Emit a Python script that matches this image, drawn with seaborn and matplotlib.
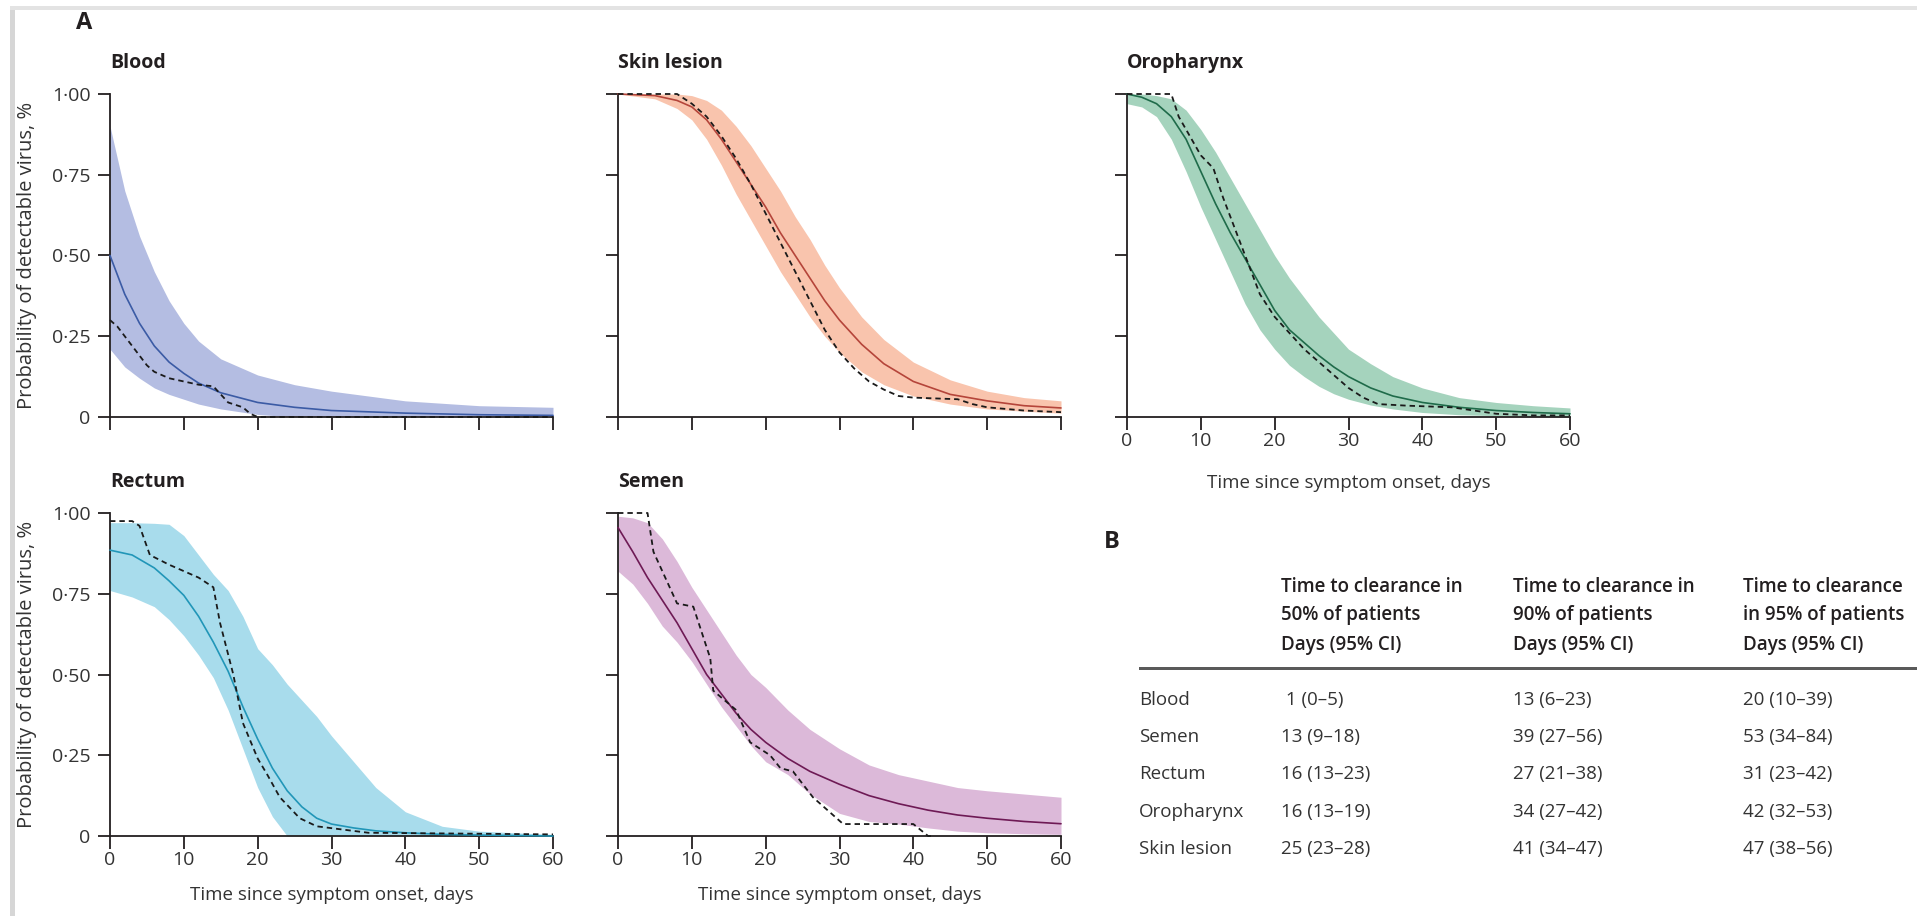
import seaborn as sns
import matplotlib.pyplot as plt
from matplotlib.patches import Rectangle

# ---- values (time in days, probability 0-1)
blood_t = [0, 2, 4, 6, 8, 10, 12, 15, 20, 25, 30, 40, 50, 60]
blood_fit = [0.50, 0.38, 0.29, 0.22, 0.17, 0.135, 0.105, 0.075, 0.045, 0.03, 0.02, 0.012, 0.007, 0.005]
blood_hi = [0.90, 0.70, 0.56, 0.45, 0.36, 0.29, 0.235, 0.18, 0.13, 0.10, 0.08, 0.05, 0.035, 0.03]
blood_lo = [0.21, 0.155, 0.12, 0.09, 0.07, 0.055, 0.04, 0.025, 0.008, 0.0, 0.0, 0.0, 0.0, 0.0]
blood_obs_t = [0, 1, 2, 3, 4, 5, 6, 8, 10, 12, 14, 15, 16, 18, 19, 20, 60]
blood_obs = [0.30, 0.28, 0.25, 0.22, 0.19, 0.16, 0.14, 0.12, 0.11, 0.10, 0.095, 0.07, 0.045, 0.03, 0.01, 0.0, 0.0]

skin_t = [0, 5, 8, 10, 12, 14, 16, 18, 20, 22, 24, 26, 28, 30, 33, 36, 40, 45, 50, 55, 60]
skin_fit = [1.0, 0.995, 0.98, 0.96, 0.92, 0.86, 0.79, 0.72, 0.65, 0.57, 0.50, 0.43, 0.36, 0.30, 0.225, 0.165, 0.11, 0.07, 0.05, 0.035, 0.028]
skin_hi = [1.0, 1.0, 1.0, 0.995, 0.98, 0.95, 0.90, 0.84, 0.77, 0.70, 0.62, 0.55, 0.47, 0.40, 0.31, 0.24, 0.17, 0.115, 0.08, 0.06, 0.05]
skin_lo = [1.0, 0.985, 0.955, 0.92, 0.86, 0.78, 0.69, 0.61, 0.53, 0.45, 0.38, 0.31, 0.25, 0.20, 0.14, 0.10, 0.065, 0.04, 0.025, 0.018, 0.012]
skin_obs_t = [0, 8, 10, 12, 14, 16, 18, 20, 22, 24, 26, 28, 30, 32, 34, 36, 38, 40, 46, 48, 50, 55, 60]
skin_obs = [1.0, 1.0, 0.97, 0.93, 0.87, 0.80, 0.72, 0.63, 0.54, 0.45, 0.36, 0.27, 0.20, 0.15, 0.11, 0.085, 0.065, 0.06, 0.055, 0.04, 0.03, 0.02, 0.015]

oro_t = [0, 2, 4, 6, 8, 10, 12, 14, 16, 18, 20, 22, 24, 26, 28, 30, 33, 36, 40, 45, 50, 55, 60]
oro_fit = [1.0, 0.99, 0.97, 0.93, 0.86, 0.76, 0.66, 0.57, 0.49, 0.41, 0.33, 0.27, 0.23, 0.19, 0.155, 0.125, 0.09, 0.065, 0.045, 0.03, 0.02, 0.014, 0.01]
oro_hi = [1.0, 1.0, 0.995, 0.985, 0.95, 0.89, 0.82, 0.74, 0.66, 0.58, 0.50, 0.43, 0.37, 0.31, 0.26, 0.21, 0.165, 0.125, 0.09, 0.06, 0.045, 0.035, 0.028]
oro_lo = [0.97, 0.96, 0.93, 0.86, 0.76, 0.65, 0.55, 0.45, 0.35, 0.27, 0.21, 0.16, 0.125, 0.095, 0.072, 0.055, 0.037, 0.025, 0.014, 0.007, 0.004, 0.002, 0.0]
oro_obs_t = [0, 6, 7, 9, 10, 11.7, 13, 14, 16, 18, 20, 22, 24, 26, 28, 30, 32, 34, 38, 44, 47, 50, 55, 60]
oro_obs = [1.0, 1.0, 0.93, 0.85, 0.81, 0.77, 0.68, 0.62, 0.50, 0.38, 0.31, 0.26, 0.21, 0.17, 0.13, 0.09, 0.06, 0.04, 0.035, 0.03, 0.02, 0.01, 0.005, 0.005]

rect_t = [0, 3, 6, 8, 10, 12, 14, 16, 18, 20, 22, 24, 26, 28, 30, 33, 36, 40, 45, 50, 60]
rect_fit = [0.885, 0.87, 0.83, 0.79, 0.745, 0.68, 0.60, 0.51, 0.40, 0.30, 0.21, 0.14, 0.09, 0.055, 0.037, 0.025, 0.016, 0.01, 0.005, 0.003, 0.0]
rect_hi = [0.97, 0.97, 0.968, 0.965, 0.93, 0.87, 0.81, 0.76, 0.68, 0.58, 0.53, 0.47, 0.42, 0.37, 0.31, 0.23, 0.15, 0.075, 0.03, 0.015, 0.005]
rect_lo = [0.76, 0.74, 0.71, 0.67, 0.62, 0.56, 0.49, 0.39, 0.27, 0.15, 0.06, 0.0, 0.0, 0.0, 0.0, 0.0, 0.0, 0.0, 0.0, 0.0, 0.0]
rect_obs_t = [0, 3, 4, 5.4, 8, 12, 14, 14.9, 16.7, 18, 20, 21.3, 23, 25.7, 28, 35, 60]
rect_obs = [0.975, 0.975, 0.96, 0.87, 0.84, 0.80, 0.77, 0.66, 0.50, 0.35, 0.24, 0.19, 0.12, 0.055, 0.03, 0.01, 0.005]

sem_t = [0, 2, 4, 6, 8, 10, 12, 14, 16, 18, 20, 23, 26, 30, 34, 38, 42, 46, 50, 55, 60]
sem_fit = [0.955, 0.88, 0.80, 0.73, 0.66, 0.58, 0.50, 0.44, 0.38, 0.33, 0.29, 0.24, 0.20, 0.16, 0.125, 0.10, 0.08, 0.065, 0.055, 0.045, 0.038]
sem_hi = [0.99, 0.985, 0.97, 0.92, 0.85, 0.77, 0.70, 0.63, 0.56, 0.50, 0.46, 0.39, 0.33, 0.27, 0.22, 0.19, 0.17, 0.15, 0.14, 0.13, 0.12]
sem_lo = [0.82, 0.78, 0.72, 0.65, 0.60, 0.54, 0.47, 0.40, 0.34, 0.28, 0.23, 0.19, 0.13, 0.07, 0.045, 0.037, 0.025, 0.015, 0.01, 0.007, 0.005]
sem_obs_t = [0, 4, 4.8, 8, 10.2, 12.5, 12.9, 16, 17.9, 20.6, 22, 23.7, 26.4, 30.5, 40, 42, 42.5]
sem_obs = [1.0, 1.0, 0.88, 0.72, 0.71, 0.55, 0.45, 0.39, 0.29, 0.25, 0.21, 0.20, 0.12, 0.037, 0.037, 0.0, 0.0]

x_ticks = [0, 10, 20, 30, 40, 50, 60]
y_ticks = [0, 0.25, 0.5, 0.75, 1.0]
y_ticklabels = ['0', '0·25', '0·50', '0·75', '1·00']

# table B
row_names = ['Blood', 'Semen', 'Rectum', 'Oropharynx', 'Skin lesion']
col_heads = [['Time to clearance in', '50% of patients', 'Days (95% CI)'],
             ['Time to clearance in', '90% of patients', 'Days (95% CI)'],
             ['Time to clearance', 'in 95% of patients', 'Days (95% CI)']]
clear50 = [' 1 (0–5)', '13 (9–18)', '16 (13–23)', '16 (13–19)', '25 (23–28)']
clear90 = ['13 (6–23)', '39 (27–56)', '27 (21–38)', '34 (27–42)', '41 (34–47)']
clear95 = ['20 (10–39)', '53 (34–84)', '31 (23–42)', '42 (32–53)', '47 (38–56)']

sns.set_style('ticks')
plt.rcParams['font.family'] = ['Open Sans', 'DejaVu Sans']
INK = '#231f20'
TXT = '#333333'

W, H = 1917, 916
fig = plt.figure(figsize=(W / 100, H / 100), dpi=100)
fig.patch.set_facecolor('white')

# light grey frame of the page
fig.add_artist(Rectangle((10 / W, 0), 5 / W, 1 - 6 / H, transform=fig.transFigure,
                         color='#d6d6d6', lw=0))
fig.add_artist(Rectangle((10 / W, 1 - 10 / H), 1, 4 / H, transform=fig.transFigure,
                         color='#e3e3e3', lw=0))


def make_ax(left, top, w=443, h=323):
    return fig.add_axes([left / W, 1 - (top + h) / H, w / W, h / H])


panels = [
    ('Blood', 110, 94, blood_t, blood_fit, blood_lo, blood_hi, blood_obs_t, blood_obs,
     '#b4bde2', '#3b5ba5', True, 0),
    ('Skin lesion', 618, 94, skin_t, skin_fit, skin_lo, skin_hi, skin_obs_t, skin_obs,
     '#f9c4ad', '#b5453a', False, 0),
    ('Oropharynx', 1127, 94, oro_t, oro_fit, oro_lo, oro_hi, oro_obs_t, oro_obs,
     '#a5d3bd', '#1f6b4a', False, 17),
    ('Rectum', 110, 513, rect_t, rect_fit, rect_lo, rect_hi, rect_obs_t, rect_obs,
     '#a8dcec', '#2196b8', True, 12),
    ('Semen', 618, 513, sem_t, sem_fit, sem_lo, sem_hi, sem_obs_t, sem_obs,
     '#dcb9d9', '#6e1a55', False, 12),
]

for (name, left, top, t, fit, lo, hi, ot, obs, fill, line, ylab, xpad) in panels:
    ax = make_ax(left, top)
    ax.fill_between(t, lo, hi, color=fill, lw=0, zorder=1)
    sns.lineplot(x=t, y=fit, ax=ax, color=line, lw=1.2, sort=False, estimator=None,
                 clip_on=False, zorder=3)
    sns.lineplot(x=ot, y=obs, ax=ax, color='#1a1a1a', lw=1.3, sort=False, estimator=None,
                 linestyle=(0, (3, 2.2)), clip_on=False, zorder=4)
    ax.set_xlim(0, 60)
    ax.set_ylim(0, 1)
    ax.set_xticks(x_ticks)
    ax.set_yticks(y_ticks)
    sns.despine(ax=ax)
    for s in ['left', 'bottom']:
        ax.spines[s].set_linewidth(1.3)
        ax.spines[s].set_color(INK)
    ax.tick_params(direction='out', length=9, width=1.3, color=INK,
                   labelsize=14, labelcolor=TXT)
    ax.tick_params(axis='x', pad=2)
    ax.tick_params(axis='y', pad=5)
    if ylab:
        ax.set_yticklabels(y_ticklabels)
        fig.text(27 / W, 1 - (top + 161) / H, 'Probability of detectable virus, %',
                 rotation=90, ha='center', va='center', fontsize=14.5, color=TXT)
    else:
        ax.set_yticklabels([])
    if xpad:
        ax.set_xticklabels([str(v) for v in x_ticks])
        ax.set_xlabel('Time since symptom onset, days', fontsize=13.5, color=TXT,
                      labelpad=xpad)
    else:
        ax.set_xticklabels([])
    ax.set_ylabel('')
    fig.text(left / W, 1 - (top - 31) / H, name, ha='left', va='center',
             fontsize=14, fontweight='bold', color=INK)

fig.text(76 / W, 1 - 23 / H, 'A', ha='left', va='center', fontsize=17,
         fontweight='bold', color=INK)
fig.text(1104 / W, 1 - 542 / H, 'B', ha='left', va='center', fontsize=17,
         fontweight='bold', color=INK)

# ---- table B
col_x = [1281, 1513, 1743]
head_y = [587, 615, 645]
row_y = [700, 737, 774, 812, 849]
for cx, lines in zip(col_x, col_heads):
    for hy, txt in zip(head_y, lines):
        fig.text(cx / W, 1 - hy / H, txt, ha='left', va='center', fontsize=13.5,
                 fontweight='semibold', color=INK)
fig.add_artist(Rectangle((1139 / W, 1 - 670 / H), 1, 3 / H, transform=fig.transFigure,
                         color='#5a5a5a', lw=0))
for ry, name, a, b, c in zip(row_y, row_names, clear50, clear90, clear95):
    fig.text(1139 / W, 1 - ry / H, name, ha='left', va='center', fontsize=13.5, color=TXT)
    for cx, val in zip(col_x, [a, b, c]):
        fig.text(cx / W, 1 - ry / H, val, ha='left', va='center', fontsize=13.5, color=TXT)

fig.savefig('out.png', dpi=100)
